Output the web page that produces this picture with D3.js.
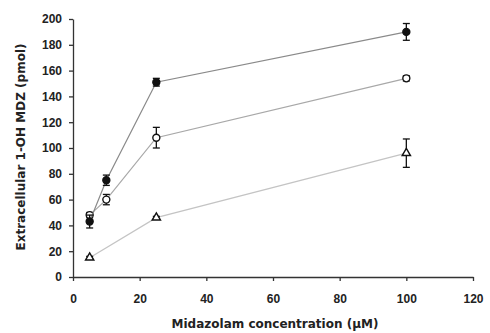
<!DOCTYPE html>
<html>
<head>
<meta charset="utf-8">
<script src="https://cdn.jsdelivr.net/npm/d3@7"></script>
<style>
  body { margin: 0; background: #fff; }
  svg { font-family: "DejaVu Sans", Arial, sans-serif; }
  .axis text { font-size: 12px; font-weight: bold; fill: #222; }
  .axis path, .axis line { stroke: #333; stroke-width: 1.3; }
  .label { font-size: 12px; font-weight: bold; fill: #222; }
</style>
</head>
<body>
<div id="chart"></div>
<script>
// concentrations (uM)
const conc = [5, 10, 25, 100];
// filled circles
const filledMean = [43, 75, 151, 190];
const filledErr = [5, 4, 3, 6.5];
// open circles
const openMean = [48, 60, 108, 154];
const openErr = [2, 4, 8, 2];
// open triangles
const triConc = [5, 25, 100];
const triMean = [15, 46, 96];
const triErr = [1, 1, 11];

const xTicks = [0, 20, 40, 60, 80, 100, 120];
const yTicks = [0, 20, 40, 60, 80, 100, 120, 140, 160, 180, 200];

const width = 490, height = 333;
const margin = { top: 19, right: 17, bottom: 56, left: 73 };
const w = width - margin.left - margin.right;
const h = height - margin.top - margin.bottom;

const svg = d3.select('#chart').append('svg')
  .attr('width', width)
  .attr('height', height)
  .append('g')
  .attr('transform', 'translate(' + margin.left + ',' + margin.top + ')');

const x = d3.scaleLinear().domain([0, 120]).range([0, w]);
const y = d3.scaleLinear().domain([0, 200]).range([h, 0]);

svg.append('g')
  .attr('class', 'axis')
  .attr('transform', 'translate(0,' + h + ')')
  .call(d3.axisBottom(x).tickValues(xTicks).tickSize(4).tickPadding(13).tickSizeOuter(0));

svg.append('g')
  .attr('class', 'axis')
  .call(d3.axisLeft(y).tickValues(yTicks).tickSize(4).tickPadding(7).tickSizeOuter(0));

svg.append('text')
  .attr('class', 'label')
  .attr('x', w / 2 + 2)
  .attr('y', h + 51)
  .attr('text-anchor', 'middle')
  .text('Midazolam concentration (\u00b5M)');

svg.append('text')
  .attr('class', 'label')
  .attr('transform', 'translate(' + (-48) + ',' + (h / 2 - 1) + ') rotate(-90)')
  .attr('text-anchor', 'middle')
  .text('Extracellular 1-OH MDZ (pmol)');

const drawSeries = (xs, means, errs, lineColor, marker) => {
  const data = xs.map((c, i) => ({ c, m: means[i], e: errs[i] }));
  const line = d3.line().x(d => x(d.c)).y(d => y(d.m));
  svg.append('path')
    .datum(data)
    .attr('d', line)
    .attr('fill', 'none')
    .attr('stroke', lineColor)
    .attr('stroke-width', 1.2);

  const g = svg.append('g');
  data.forEach(d => {
    const cx = x(d.c);
    g.append('line')
      .attr('x1', cx).attr('x2', cx)
      .attr('y1', y(d.m - d.e)).attr('y2', y(d.m + d.e))
      .attr('stroke', '#111').attr('stroke-width', 1.3);
    [d.m - d.e, d.m + d.e].forEach(v => {
      g.append('line')
        .attr('x1', cx - 3.5).attr('x2', cx + 3.5)
        .attr('y1', y(v)).attr('y2', y(v))
        .attr('stroke', '#111').attr('stroke-width', 1.3);
    });
  });

  if (marker === 'triangle') {
    g.selectAll('path.m').data(data).enter().append('path')
      .attr('d', d3.symbol().type(d3.symbolTriangle).size(30))
      .attr('transform', d => 'translate(' + x(d.c) + ',' + y(d.m) + ')')
      .attr('fill', '#fff').attr('stroke', '#111').attr('stroke-width', 1.4);
  } else {
    g.selectAll('circle').data(data).enter().append('circle')
      .attr('cx', d => x(d.c))
      .attr('cy', d => y(d.m))
      .attr('r', 3.5)
      .attr('fill', marker === 'filled' ? '#111' : '#fff')
      .attr('stroke', '#111').attr('stroke-width', 1.4);
  }
};

drawSeries(triConc, triMean, triErr, '#c4c4c4', 'triangle');
drawSeries(conc, openMean, openErr, '#a8a8a8', 'open');
drawSeries(conc, filledMean, filledErr, '#8a8a8a', 'filled');
</script>
</body>
</html>
